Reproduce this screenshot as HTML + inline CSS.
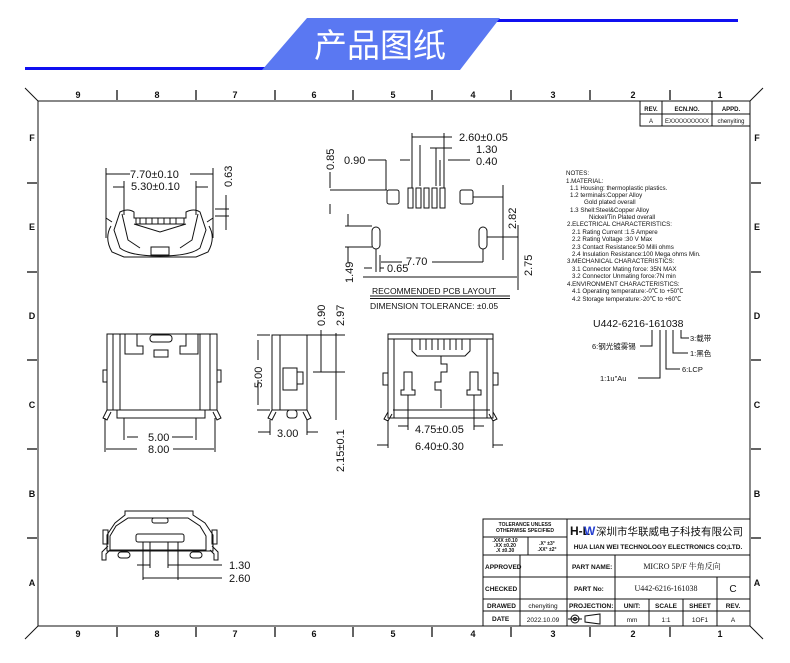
<!DOCTYPE html>
<html><head><meta charset="utf-8"><style>
html,body{margin:0;padding:0;background:#fff}
svg{display:block}
text{font-family:"Liberation Sans","Noto Sans CJK SC",sans-serif;fill:#111}
</style></head><body>
<svg width="790" height="663" viewBox="0 0 790 663" xmlns="http://www.w3.org/2000/svg">
<!-- header -->
<rect x="25" y="67" width="240" height="3" fill="#1010f0"/>
<rect x="497" y="19" width="241" height="3" fill="#1010f0"/>
<polygon points="307,18 500,18 460,70 262,70" fill="#5a78f2"/>
<text x="380" y="57" font-size="33" fill="#fff" style="fill:#fff" text-anchor="middle">产品图纸</text>

<g stroke="#111" fill="none" stroke-width="1">
<!-- frame -->
<rect x="38" y="101" width="712" height="525"/>
<line x1="25" y1="88" x2="38" y2="101"/><line x1="763" y1="88" x2="750" y2="101"/>
<line x1="25" y1="639" x2="38" y2="626"/><line x1="763" y1="639" x2="750" y2="626"/>
<g stroke-width="1.3">
<line x1="117" y1="90" x2="117" y2="100"/><line x1="196" y1="90" x2="196" y2="100"/><line x1="275" y1="90" x2="275" y2="100"/><line x1="353" y1="90" x2="353" y2="100"/><line x1="432" y1="90" x2="432" y2="100"/><line x1="511" y1="90" x2="511" y2="100"/><line x1="590" y1="90" x2="590" y2="100"/><line x1="670" y1="90" x2="670" y2="100"/>
<line x1="117" y1="627" x2="117" y2="637"/><line x1="196" y1="627" x2="196" y2="637"/><line x1="275" y1="627" x2="275" y2="637"/><line x1="353" y1="627" x2="353" y2="637"/><line x1="432" y1="627" x2="432" y2="637"/><line x1="511" y1="627" x2="511" y2="637"/><line x1="590" y1="627" x2="590" y2="637"/><line x1="670" y1="627" x2="670" y2="637"/>
<line x1="27" y1="183" x2="37" y2="183"/><line x1="27" y1="272" x2="37" y2="272"/><line x1="27" y1="360" x2="37" y2="360"/><line x1="27" y1="449" x2="37" y2="449"/><line x1="27" y1="538" x2="37" y2="538"/>
<line x1="751" y1="183" x2="761" y2="183"/><line x1="751" y1="272" x2="761" y2="272"/><line x1="751" y1="360" x2="761" y2="360"/><line x1="751" y1="449" x2="761" y2="449"/><line x1="751" y1="538" x2="761" y2="538"/>
</g>
<!-- rev table -->
<rect x="640" y="101" width="110" height="25"/><line x1="640" y1="114" x2="750" y2="114"/><line x1="662" y1="101" x2="662" y2="126"/><line x1="712" y1="101" x2="712" y2="126"/>
<!-- title block -->
<rect x="483" y="519" width="267" height="107"/>
<line x1="483" y1="555" x2="750" y2="555"/><line x1="483" y1="577" x2="750" y2="577"/><line x1="483" y1="599" x2="750" y2="599"/><line x1="483" y1="611" x2="750" y2="611"/>
<line x1="567" y1="519" x2="567" y2="626"/><line x1="520" y1="555" x2="520" y2="626"/><line x1="615" y1="555" x2="615" y2="626"/>
<line x1="483" y1="537" x2="567" y2="537"/><line x1="528" y1="537" x2="528" y2="555"/>
<line x1="717" y1="577" x2="717" y2="626"/><line x1="649" y1="599" x2="649" y2="626"/><line x1="683" y1="599" x2="683" y2="626"/>
<!-- projection symbol -->
<circle cx="575" cy="619" r="4"/><circle cx="575" cy="619" r="1.5"/><line x1="568" y1="619" x2="582" y2="619"/><polygon points="585,616 600,614 600,624 585,622"/>

<!-- top-left front view -->
<line x1="106" y1="168" x2="106" y2="238"/><line x1="213" y1="168" x2="213" y2="238"/>
<line x1="106" y1="174" x2="130" y2="174"/><line x1="190" y1="174" x2="213" y2="174"/>
<line x1="124" y1="181" x2="124" y2="215"/><line x1="196" y1="181" x2="196" y2="215"/>
<line x1="113" y1="187" x2="124" y2="187"/><line x1="196" y1="187" x2="208" y2="187"/>
<line x1="215" y1="209" x2="229" y2="209"/><line x1="215" y1="216" x2="229" y2="216"/><line x1="226" y1="195" x2="226" y2="230"/>
<path d="M106,210 L106,218 L112,222 M213,210 L213,218 L207,222"/>
<path d="M120,212 Q128,208 134,212 L134,218 L186,218 L186,212 Q194,208 200,212 L206,230 L200,248 Q190,256 160,256 Q130,256 120,248 L114,230 Z"/>
<path d="M111,226 Q104,238 112,252 L124,257 L196,257 L208,252 Q216,238 209,226"/>
<path d="M122,214 L128,240 L140,248 M198,214 L192,240 L180,248 M134,224 L160,232 L186,224"/>
<rect x="151" y="247" width="18" height="8"/>
<path d="M136,218 h48 v6 h-48 z M140,218 v6 M146,218 v6 M152,218 v6 M158,218 v6 M164,218 v6 M170,218 v6 M176,218 v6"/>

<!-- PCB layout -->
<rect x="387" y="190" width="12" height="14" rx="2"/><rect x="460" y="190" width="13" height="14" rx="2"/>
<rect x="408" y="188" width="5" height="20"/><rect x="416" y="188" width="5" height="20"/><rect x="424" y="188" width="5" height="20"/><rect x="432" y="188" width="5" height="20"/><rect x="440" y="188" width="5" height="20"/>
<rect x="372" y="227" width="8" height="22" rx="4"/><rect x="479" y="227" width="8" height="22" rx="4"/>
<line x1="412" y1="133" x2="412" y2="188"/><line x1="444" y1="133" x2="444" y2="188"/><line x1="412" y1="137" x2="452" y2="137"/>
<line x1="420" y1="145" x2="420" y2="186"/><line x1="430" y1="148" x2="452" y2="148"/><line x1="436" y1="148" x2="436" y2="186"/><line x1="440" y1="160" x2="440" y2="186"/><line x1="448" y1="160" x2="470" y2="160"/>
<line x1="368" y1="160" x2="386" y2="160"/><line x1="386" y1="160" x2="386" y2="190"/><line x1="400" y1="160" x2="410" y2="160"/>
<line x1="330" y1="190" x2="387" y2="190"/><line x1="330" y1="204" x2="330" y2="214"/><line x1="330" y1="172" x2="330" y2="188"/>
<line x1="473" y1="197" x2="503" y2="197"/><line x1="503" y1="185" x2="503" y2="260"/><line x1="487" y1="237" x2="518" y2="237"/><line x1="518" y1="225" x2="518" y2="290"/>
<line x1="345" y1="226" x2="372" y2="226"/><line x1="345" y1="247" x2="372" y2="247"/><line x1="348" y1="214" x2="348" y2="226"/><line x1="348" y1="247" x2="348" y2="262"/>
<line x1="376" y1="249" x2="376" y2="272"/><line x1="483" y1="249" x2="483" y2="262"/><line x1="381" y1="262" x2="402" y2="262"/><line x1="432" y1="262" x2="483" y2="262"/>
<line x1="364" y1="268" x2="372" y2="268"/><line x1="380" y1="268" x2="384" y2="268"/><line x1="380" y1="255" x2="380" y2="272"/>
<line x1="363" y1="277" x2="517" y2="277"/>
<line x1="370" y1="296" x2="510" y2="296"/><line x1="370" y1="298.5" x2="510" y2="298.5"/>

<!-- middle front view -->
<rect x="107" y="334" width="110" height="76"/>
<line x1="113" y1="334" x2="113" y2="410"/><line x1="120" y1="334" x2="120" y2="410"/><line x1="200" y1="334" x2="200" y2="410"/><line x1="210" y1="334" x2="210" y2="410"/>
<path d="M125,334 v20 h18 v-8 h-6 v-12 M198,334 v20 h-18 v-8 h6 v-12"/><rect x="150" y="335" width="22" height="7" rx="3"/><rect x="154" y="350" width="14" height="7"/>
<rect x="103" y="370" width="4" height="12"/><rect x="217" y="370" width="4" height="12"/>
<rect x="117" y="410" width="88" height="8"/><path d="M107,410 l-4,8 4,2 4,-8 M217,410 l4,8 -4,2 -4,-8"/>
<line x1="105" y1="418" x2="105" y2="452"/><line x1="215" y1="418" x2="215" y2="452"/><line x1="124" y1="418" x2="124" y2="440"/><line x1="196" y1="418" x2="196" y2="440"/>
<line x1="127" y1="437" x2="138" y2="437"/><line x1="172" y1="437" x2="193" y2="437"/><line x1="106" y1="449" x2="137" y2="449"/><line x1="173" y1="449" x2="214" y2="449"/>
<!-- side view -->
<rect x="272" y="335" width="35" height="75"/><line x1="280" y1="335" x2="280" y2="410"/><rect x="283" y="368" width="14" height="22"/><rect x="297" y="372" width="6" height="12"/>
<path d="M272,410 l-4,8 4,2 4,-8 M307,410 l4,8 -4,2 -4,-8"/><rect x="287" y="410" width="10" height="8" rx="3"/>
<line x1="257" y1="335" x2="270" y2="335"/><line x1="257" y1="410" x2="270" y2="410"/><line x1="258" y1="340" x2="258" y2="360"/><line x1="258" y1="380" x2="258" y2="405"/>
<line x1="307" y1="335" x2="345" y2="335"/><line x1="313" y1="372" x2="345" y2="372"/><line x1="321" y1="330" x2="321" y2="372"/><line x1="336" y1="333" x2="336" y2="420"/>
<line x1="270" y1="420" x2="270" y2="435"/><line x1="307" y1="420" x2="307" y2="435"/><line x1="258" y1="432" x2="270" y2="432"/><line x1="307" y1="432" x2="318" y2="432"/>
<!-- rear view -->
<rect x="388" y="334" width="105" height="84"/><line x1="388" y1="339" x2="493" y2="339"/><line x1="394" y1="339" x2="394" y2="418"/><line x1="487" y1="339" x2="487" y2="418"/>
<path d="M412,339 v12 l5,5 h48 l5,-5 v-12"/><path d="M420,339 v11 M426,339 v11 M432,339 v11 M438,339 v11 M444,339 v11 M450,339 v11 M456,339 v11 M462,339 v11"/>
<path d="M441,356 v8 h6 v8 h-6 v10 h-6 v8 h6 v18"/>
<rect x="383" y="373" width="5" height="12"/><rect x="493" y="373" width="5" height="12"/>
<path d="M404,372 h8 v18 h3 v5 h-14 v-5 h3 z M470,372 h8 v18 h3 v5 h-14 v-5 h3 z"/>
<line x1="408" y1="395" x2="408" y2="430"/><line x1="474" y1="395" x2="474" y2="430"/>
<line x1="393" y1="410" x2="490" y2="410"/><path d="M388,412 l-4,7 4,2 4,-7 M493,412 l4,7 -4,2 -4,-7"/>
<line x1="388" y1="420" x2="388" y2="448"/><line x1="493" y1="420" x2="493" y2="448"/>
<line x1="398" y1="426" x2="408" y2="426"/><line x1="474" y1="426" x2="484" y2="426"/><line x1="377" y1="445" x2="388" y2="445"/><line x1="493" y1="445" x2="503" y2="445"/>

<!-- bottom view -->
<path d="M125,511 h68 v4 l12,8 l8,12 v16 h-106 v-16 l8,-12 l10,-8 z"/>
<path d="M128,518 h60 l12,8 l6,10 v14 h-96 v-14 l6,-10 z"/>
<rect x="103" y="530" width="5" height="14"/><rect x="212" y="530" width="5" height="14"/>
<path d="M108,546 l-6,6 v8 h4 v-6 l4,-4 M212,546 l6,6 v8 h-4 v-6 l-4,-4"/>
<rect x="118" y="552" width="12" height="6" rx="3"/><rect x="190" y="552" width="12" height="6" rx="3"/>
<rect x="136" y="534" width="48" height="8" rx="2"/><rect x="152" y="518" width="16" height="5" rx="2"/>
<line x1="143" y1="542" x2="143" y2="580"/><line x1="150" y1="542" x2="150" y2="568"/><line x1="168" y1="542" x2="168" y2="568"/><line x1="178" y1="542" x2="178" y2="580"/>
<line x1="137" y1="565" x2="150" y2="565"/><line x1="168" y1="565" x2="222" y2="565"/><line x1="143" y1="578" x2="222" y2="578"/>

<!-- part number leaders -->
<path d="M652,330 v16 h-12 M660,330 v48 h-22 M666,330 v39 h14 M673,330 v23 h15 M681,330 v8 h8"/>
</g>

<!-- labels -->
<g font-size="9" font-weight="bold" text-anchor="middle">
<text x="78" y="98">9</text><text x="157" y="98">8</text><text x="235" y="98">7</text><text x="314" y="98">6</text><text x="393" y="98">5</text><text x="473" y="98">4</text><text x="553" y="98">3</text><text x="633" y="98">2</text><text x="720" y="98">1</text>
<text x="78" y="637">9</text><text x="157" y="637">8</text><text x="235" y="637">7</text><text x="314" y="637">6</text><text x="393" y="637">5</text><text x="473" y="637">4</text><text x="553" y="637">3</text><text x="633" y="637">2</text><text x="720" y="637">1</text>
<text x="32" y="141">F</text><text x="32" y="230">E</text><text x="32" y="319">D</text><text x="32" y="408">C</text><text x="32" y="497">B</text><text x="32" y="586">A</text>
<text x="757" y="141">F</text><text x="757" y="230">E</text><text x="757" y="319">D</text><text x="757" y="408">C</text><text x="757" y="497">B</text><text x="757" y="586">A</text>
</g>
<g font-size="6" text-anchor="middle">
<text x="651" y="111" font-weight="bold">REV.</text><text x="687" y="111" font-weight="bold">ECN.NO.</text><text x="731" y="111" font-weight="bold">APPD.</text>
<text x="651" y="123">A</text><text x="687" y="123">EXXXXXXXXXX</text><text x="731" y="123">chenyiting</text>
</g>
<!-- title block text -->
<g font-size="5" font-weight="bold" text-anchor="middle"><text x="525" y="526">TOLERANCE UNLESS</text><text x="525" y="532">OTHERWISE SPECIFIED</text>
<text x="505" y="542" font-size="5">.XXX ±0.10</text><text x="505" y="547" font-size="5">.XX  ±0.20</text><text x="505" y="552" font-size="5">.X   ±0.30</text>
<text x="547" y="545">.X°  ±3°</text><text x="547" y="551">.XX° ±2°</text></g>
<text x="570" y="535" font-size="12" font-weight="bold" fill="#223">H-L</text><text x="584" y="535" font-size="12" font-weight="bold" style="fill:#2640d0">W</text>
<text x="596" y="535" font-size="10.5">深圳市华联威电子科技有限公司</text>
<text x="658" y="549" font-size="6.5" font-weight="bold" text-anchor="middle">HUA LIAN WEI TECHNOLOGY ELECTRONICS CO;LTD.</text>
<g font-size="6.5" font-weight="bold"><text x="485" y="569">APPROVED</text><text x="485" y="591">CHECKED</text><text x="487" y="608">DRAWED</text><text x="492" y="621">DATE</text>
<text x="572" y="569">PART NAME:</text><text x="574" y="591">PART No:</text><text x="569" y="608">PROJECTION:</text></g>
<g font-size="6.5" text-anchor="middle"><text x="682" y="569" style="font-family:'Liberation Serif','Noto Serif CJK SC',serif" font-size="8">MICRO 5P/F 牛角反向</text>
<text x="666" y="591" style="font-family:'Liberation Serif',serif" font-size="8">U442-6216-161038</text>
<text x="733" y="592" font-size="10">C</text>
<text x="543" y="608">chenyiting</text><text x="543" y="622">2022.10.09</text>
<text x="632" y="608" font-weight="bold">UNIT:</text><text x="666" y="608" font-weight="bold">SCALE</text><text x="700" y="608" font-weight="bold">SHEET</text><text x="733" y="608" font-weight="bold">REV.</text>
<text x="632" y="622">mm</text><text x="666" y="622">1:1</text><text x="700" y="622">1OF1</text><text x="733" y="622">A</text></g>

<!-- dimension text -->
<g font-size="11">
<text x="130" y="178">7.70±0.10</text><text x="131" y="190">5.30±0.10</text>
<text transform="translate(232,187) rotate(-90)">0.63</text>
<text x="459" y="141">2.60±0.05</text><text x="476" y="153">1.30</text><text x="476" y="165">0.40</text><text x="344" y="164">0.90</text>
<text transform="translate(334,170) rotate(-90)">0.85</text><text transform="translate(516,229) rotate(-90)">2.82</text><text transform="translate(532,276) rotate(-90)">2.75</text>
<text x="406" y="265">7.70</text><text x="387" y="272">0.65</text><text transform="translate(353,283) rotate(-90)">1.49</text>
<text transform="translate(325,326) rotate(-90)">0.90</text><text transform="translate(344,326) rotate(-90)">2.97</text>
<text transform="translate(262,388) rotate(-90)">5.00</text><text x="277" y="437">3.00</text><text transform="translate(344,472) rotate(-90)">2.15±0.1</text>
<text x="148" y="441">5.00</text><text x="148" y="453">8.00</text>
<text x="415" y="433">4.75±0.05</text><text x="415" y="450">6.40±0.30</text>
<text x="229" y="569">1.30</text><text x="229" y="582">2.60</text>
</g>
<g font-size="8.5"><text x="372" y="294">RECOMMENDED PCB LAYOUT</text><text x="370" y="309">DIMENSION TOLERANCE: ±0.05</text></g>

<!-- notes -->
<g font-size="6.2">
<text x="566" y="175">NOTES:</text><text x="566" y="183">1.MATERIAL:</text>
<text x="570" y="190">1.1 Housing: thermoplastic plastics.</text><text x="570" y="197">1.2 terminals:Copper Alloy</text>
<text x="584" y="204">Gold plated overall</text><text x="570" y="212">1.3 Shell:Steel&amp;Copper Alloy</text><text x="589" y="219">Nickel/Tin Plated overall</text>
<text x="567" y="226">2.ELECTRICAL CHARACTERISTICS:</text><text x="572" y="234">2.1 Rating Current :1.5 Ampere</text><text x="572" y="241">2.2 Rating Voltage :30 V Max</text>
<text x="572" y="249">2.3 Contact Resistance:50 Milli ohms</text><text x="572" y="256">2.4 Insulation Resistance:100 Mega ohms Min.</text>
<text x="567" y="263">3.MECHANICAL CHARACTERISTICS:</text><text x="572" y="271">3.1 Connector Mating force: 35N MAX</text><text x="572" y="278">3.2 Connector Unmating force:7N min</text>
<text x="567" y="286">4.ENVIRONMENT CHARACTERISTICS:</text><text x="572" y="293">4.1 Operating temperature:-0℃ to +50℃</text><text x="572" y="301">4.2 Storage temperature:-20℃ to +60℃</text>
</g>
<text x="593" y="327" font-size="10.5">U442-6216-161038</text>
<g font-size="7.5"><text x="592" y="349">6:钢光镀雾锡</text><text x="690" y="341">3:载带</text><text x="690" y="356">1:黑色</text><text x="600" y="381">1:1u"Au</text><text x="682" y="372">6:LCP</text></g>
</svg>
</body></html>
